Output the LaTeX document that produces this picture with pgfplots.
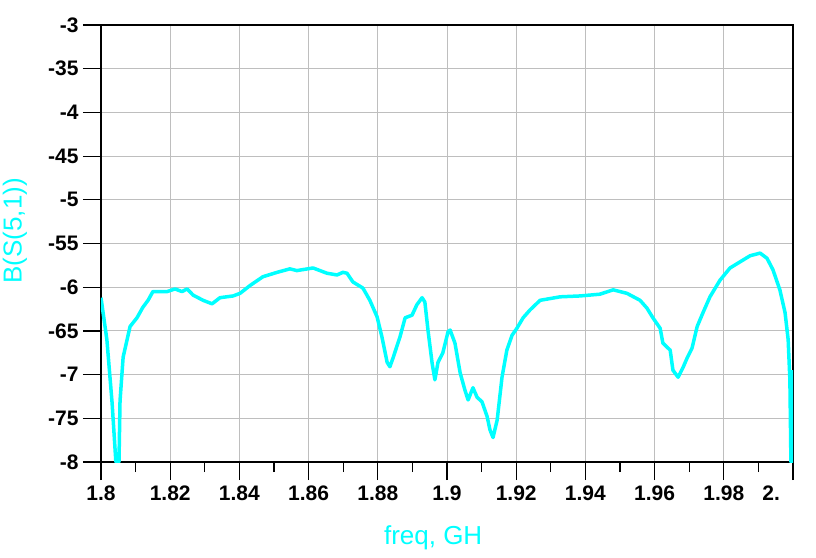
\documentclass[border=0pt]{standalone}
\usepackage{pgfplots}
\pgfplotsset{compat=1.18}
\usepackage{fontspec}
\setmainfont{Liberation Sans}
\definecolor{adscyan}{RGB}{0,255,255}
\definecolor{gridgray}{RGB}{190,190,190}
\begin{document}
\begin{tikzpicture}
\begin{axis}[
	scale only axis,
	width=692pt, height=437pt,
	xmin=1.8, xmax=2.0,
	ymin=-80, ymax=-30,
	xtick={1.8,1.82,1.84,1.86,1.88,1.9,1.92,1.94,1.96,1.98,2.0},
	xticklabels={1.8,1.82,1.84,1.86,1.88,1.9,1.92,1.94,1.96,1.98,\makebox[0pt][r]{2.\hspace{13pt}}},
	ytick={-80,-75,-70,-65,-60,-55,-50,-45,-40,-35,-30},
	yticklabels={-8,-75,-7,-65,-6,-55,-5,-45,-4,-35,-3},
	minor x tick num=1,
	tick pos=left,
	tick align=outside,
	major tick length=18pt,
	minor tick length=10pt,
	tick style={black, line width=1.2pt},
	xmajorgrids=true, ymajorgrids=true,
	grid style={gridgray, line width=1pt},
	axis line style={black, line width=1.2pt},
	ticklabel style={font=\fontsize{21}{25}\selectfont\bfseries},
	xticklabel style={yshift=-2pt},
	yticklabel style={xshift=-1pt},
	xlabel={freq, GH},
	ylabel={B(S(5,1))},
	xlabel style={at={(axis description cs:0.48,-0.174)}, anchor=center, font=\fontsize{26}{30}\selectfont, text=adscyan},
	ylabel style={at={(axis description cs:-0.1245,0.529)}, anchor=center, inner sep=0pt, rotate=0, font=\fontsize{26}{30}\selectfont, text=adscyan},
]
\addplot[color=adscyan, line width=3.5pt, line join=round]
coordinates{
	(1.8000, -61.2) (1.8017, -66.0) (1.8032, -73.2) (1.8043, -80.0)
	(1.8052, -80.0) (1.8055, -73.0) (1.8064, -68.0) (1.8084, -64.5)
	(1.8104, -63.5) (1.8121, -62.3) (1.8136, -61.5) (1.8150, -60.5)
	(1.8191, -60.5) (1.8214, -60.2) (1.8234, -60.5) (1.8249, -60.2)
	(1.8266, -60.9) (1.8295, -61.5) (1.8321, -61.9) (1.8344, -61.2)
	(1.8382, -61.0) (1.8402, -60.7) (1.8431, -59.8) (1.8468, -58.8)
	(1.8509, -58.3) (1.8546, -57.9) (1.8566, -58.1) (1.8613, -57.8)
	(1.8653, -58.4) (1.8682, -58.6) (1.8699, -58.3) (1.8711, -58.4)
	(1.8728, -59.4) (1.8757, -60.1) (1.8777, -61.5) (1.8798, -63.4)
	(1.8812, -65.7) (1.8827, -68.6) (1.8835, -69.1) (1.8844, -68.1)
	(1.8864, -65.7) (1.8879, -63.5) (1.8899, -63.2) (1.8913, -62.0)
	(1.8928, -61.2) (1.8936, -61.7) (1.8945, -64.9) (1.8957, -68.7)
	(1.8965, -70.6) (1.8974, -68.6) (1.8988, -67.5) (1.9003, -65.1)
	(1.9009, -64.9) (1.9023, -66.4) (1.9038, -69.8) (1.9052, -71.8)
	(1.9061, -72.9) (1.9075, -71.5) (1.9087, -72.6) (1.9101, -73.1)
	(1.9116, -74.8) (1.9124, -76.3) (1.9133, -77.2) (1.9145, -75.2)
	(1.9159, -70.3) (1.9173, -67.2) (1.9188, -65.5) (1.9202, -64.7)
	(1.9220, -63.5) (1.9240, -62.6) (1.9269, -61.5) (1.9327, -61.1)
	(1.9385, -61.0) (1.9442, -60.8) (1.9480, -60.3) (1.9520, -60.7)
	(1.9558, -61.5) (1.9578, -62.4) (1.9595, -63.5) (1.9616, -64.7)
	(1.9624, -66.4) (1.9645, -67.2) (1.9653, -69.5) (1.9668, -70.3)
	(1.9682, -69.2) (1.9694, -68.1) (1.9708, -67.0) (1.9723, -64.5)
	(1.9740, -62.9) (1.9760, -61.1) (1.9789, -59.2) (1.9818, -57.8)
	(1.9847, -57.1) (1.9876, -56.4) (1.9905, -56.1) (1.9925, -56.7)
	(1.9942, -58.0) (1.9962, -60.3) (1.9977, -62.9) (1.9986, -66.0)
	(1.9991, -70.6) (1.9994, -80.0) (1.9997, -80.0) (2.0000, -69.5)
};
\end{axis}
\pgfresetboundingbox
\path[use as bounding box] ([xshift=-101pt,yshift=-95pt]current axis.south west) rectangle ([xshift=23pt,yshift=25pt]current axis.north east);
\end{tikzpicture}
\end{document}
